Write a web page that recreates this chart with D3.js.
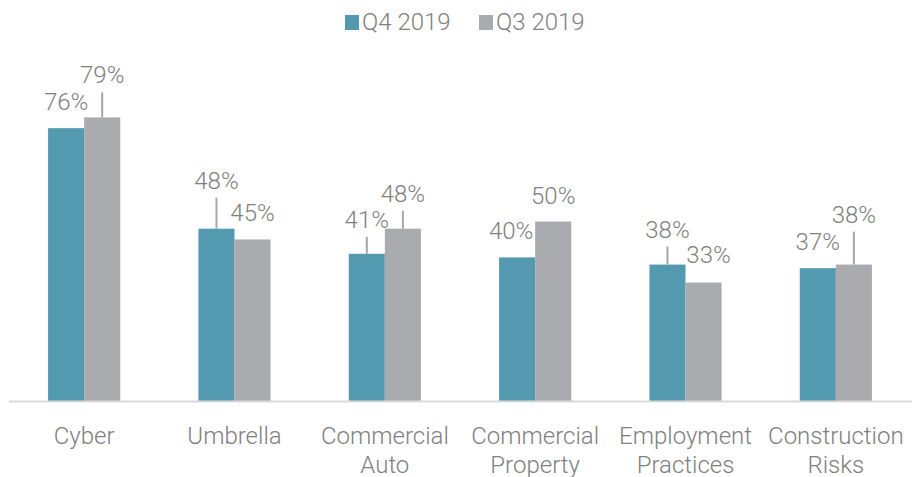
<!DOCTYPE html>
<html>
<head>
<meta charset="utf-8">
<script src="https://cdn.jsdelivr.net/npm/d3@7"></script>
<style>
    body { margin: 0; background: #fff; }
    text { font-family: Roboto, sans-serif; font-weight: 300; fill: #808080; }
</style>
</head>
<body>
<svg id="chart" width="917" height="477"></svg>
<script>
const categories = [
    ["Cyber"],
    ["Umbrella"],
    ["Commercial", "Auto"],
    ["Commercial", "Property"],
    ["Employment", "Practices"],
    ["Construction", "Risks"]
];
const seriesNames = ["Q4 2019", "Q3 2019"];
const q4Values = [76, 48, 41, 40, 38, 37];
const q3Values = [79, 45, 48, 50, 33, 38];

// label placement tweaks: extra lift (leader line) and sideways nudge
const q4Lift = [0, 22, 8, 0, 9, 0];
const q3Lift = [16, 0, 9, 0, 2, 24];
const q4Nudge = [0, 0, 0, -6, 0, 0];
const q3Nudge = [0, 0, 0, 0, 5, 0];

const colors = ["#5399b0", "#aaabaf"];

let svg = d3.select("#chart"),
    baseY = 401;

let x = d3.scaleBand()
    .domain(d3.range(categories.length))
    .range([9, 911])
    .paddingInner(0.52)
    .paddingOuter(0.26);

let xSub = d3.scaleBand()
    .domain([0, 1])
    .range([0, x.bandwidth()]);

let y = d3.scaleLinear()
    .domain([0, 100])
    .range([baseY, 42]);

const rows = categories.map((c, i) => ({
    i: i,
    vals: [q4Values[i], q3Values[i]],
    lift: [q4Lift[i], q3Lift[i]],
    nudge: [q4Nudge[i], q3Nudge[i]]
}));

let group = svg.selectAll(".grp")
    .data(rows)
    .enter().append("g")
    .attr("class", "grp")
    .attr("transform", d => "translate(" + x(d.i) + ",0)");

group.selectAll("rect")
    .data(d => d.vals.map((v, k) => ({v: v, k: k})))
    .enter().append("rect")
    .attr("x", d => xSub(d.k))
    .attr("y", d => y(d.v))
    .attr("width", xSub.bandwidth())
    .attr("height", d => baseY - y(d.v))
    .attr("fill", d => colors[d.k]);

let labels = group.selectAll(".lbl")
    .data(d => d.vals.map((v, k) => ({v: v, k: k, lift: d.lift[k], nudge: d.nudge[k]})))
    .enter().append("g")
    .attr("class", "lbl");

// leader lines only where the label was lifted well clear of the bar
labels.filter(d => d.lift > 5)
    .append("line")
    .attr("x1", d => xSub(d.k) + xSub.bandwidth() / 2)
    .attr("x2", d => xSub(d.k) + xSub.bandwidth() / 2)
    .attr("y1", d => y(d.v) - 18 - d.lift + 9)
    .attr("y2", d => y(d.v))
    .attr("stroke", "#a6a6a6")
    .attr("stroke-width", 2);

labels.append("text")
    .attr("x", d => xSub(d.k) + xSub.bandwidth() / 2 + d.nudge)
    .attr("y", d => y(d.v) - 18 - d.lift)
    .attr("text-anchor", "middle")
    .style("font-size", "24px")
    .text(d => d.v + "%");

// baseline
svg.append("line")
    .attr("x1", 9)
    .attr("x2", 912)
    .attr("y1", baseY + 0.5)
    .attr("y2", baseY + 0.5)
    .attr("stroke", "#d9d9d9")
    .attr("stroke-width", 2);

// category labels
let cat = svg.selectAll(".cat")
    .data(rows)
    .enter().append("text")
    .attr("class", "cat")
    .attr("text-anchor", "middle")
    .attr("x", d => x(d.i) + x.bandwidth() / 2)
    .attr("y", 444)
    .style("font-size", "24px");

cat.selectAll("tspan")
    .data(d => categories[d.i])
    .enter().append("tspan")
    .attr("x", function() { return this.parentNode.getAttribute("x"); })
    .attr("dy", (d, i) => i === 0 ? 0 : 29)
    .text(d => d);

// legend
let legend = svg.append("g");
let lx = [345, 479];
seriesNames.forEach((name, k) => {
    legend.append("rect")
        .attr("x", lx[k])
        .attr("y", 15)
        .attr("width", 14)
        .attr("height", 15)
        .attr("fill", colors[k]);
    legend.append("text")
        .attr("x", lx[k] + 17)
        .attr("y", 30)
        .style("font-size", "24px")
        .text(name);
});
</script>
</body>
</html>
